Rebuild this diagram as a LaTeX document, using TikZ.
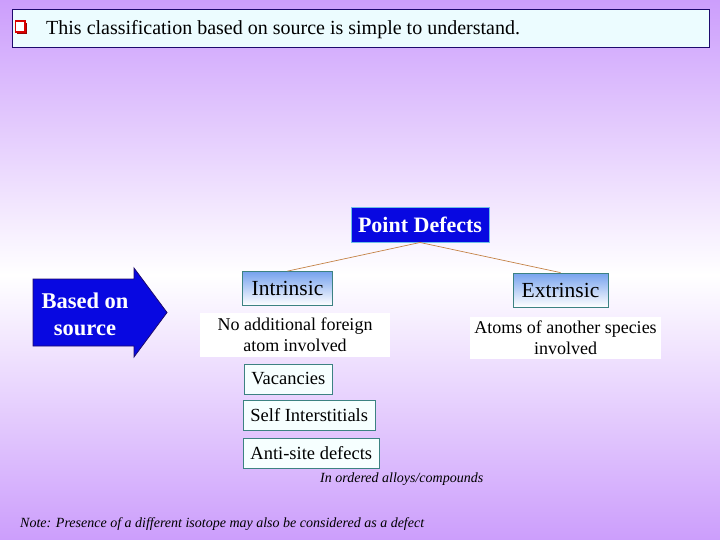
\documentclass[tikz,border=0pt]{standalone}
\usepackage{fontspec}
\setmainfont{Liberation Serif}
\begin{document}
\begin{tikzpicture}[x=1pt,y=-1pt]
\definecolor{bgpurple}{RGB}{204,158,252}
\definecolor{topfill}{RGB}{236,252,255}
\definecolor{navyb}{RGB}{30,10,110}
\definecolor{pdblue}{RGB}{8,8,225}
\definecolor{pdborder}{RGB}{110,190,230}
\definecolor{tealb}{RGB}{60,130,130}
\definecolor{lightblue}{RGB}{118,162,238}
\definecolor{linkc}{RGB}{196,130,70}
\definecolor{boxfill}{RGB}{246,255,255}
\tikzset{
  catbox/.style={draw=tealb, line width=0.8pt, top color=lightblue, bottom color=white,
    minimum width=90pt, minimum height=34pt, inner sep=0pt, font=\fontsize{21.5}{23}\selectfont},
  itembox/.style={draw=tealb, line width=0.8pt, fill=boxfill, minimum height=30pt,
    inner sep=0pt, inner xsep=7pt, anchor=west, font=\fontsize{18.5}{20}\selectfont},
  notebox/.style={fill=white, inner sep=0pt, align=center, font=\fontsize{18}{21}\selectfont},
  link/.style={draw=linkc, line width=0.7pt},
  small/.style={inner sep=0pt, font=\fontsize{14}{15}\selectfont\itshape}
}
\useasboundingbox (0,0) rectangle (720,540);
\shade[top color=bgpurple, bottom color=white] (0,0) rectangle (720,275);
\shade[top color=white, bottom color=bgpurple] (0,275) rectangle (720,540);
% top banner
\node[draw=navyb, line width=1.2pt, fill=topfill, minimum width=697pt, minimum height=38pt,
  inner sep=0pt, anchor=north west] (banner) at (12,9) {};
\fill[red!60!black] (17,23) rectangle (27,34);
\draw[red!85!black, line width=1.3pt, fill=white] (15.5,21) rectangle (25,32);
\node[inner sep=0pt, anchor=base west, font=\fontsize{20}{22}\selectfont] (title) at (46,35)
  {This classification based on source is simple to understand.};
% arrow
\draw[fill=pdblue, draw=navyb, line width=0.8pt]
  (33,279) -- (134,279) -- (134,268) -- (167,312.5) -- (134,357) -- (134,346) -- (33,346) -- cycle;
\node[inner sep=0pt, align=center, text=white, font=\fontsize{22.5}{27}\selectfont\bfseries] (based) at (85,314)
  {Based on\\source};
% point defects
\node[draw=pdborder, line width=1pt, fill=pdblue, minimum width=138pt, minimum height=34pt,
  inner sep=0pt, text=white, font=\fontsize{22}{23}\selectfont\bfseries] (pd) at (420,225) {Point Defects};
\node[catbox] (intr) at (287.5,288.5) {Intrinsic};
\node[catbox, minimum width=95pt] (extr) at (560.5,290) {Extrinsic};
\draw[link] (pd.south) -- (intr.north);
\draw[link] (pd.south) -- (extr.north);
\node[notebox, minimum width=190pt, minimum height=44pt] (nofor) at (295,335)
  {No additional foreign\\atom involved};
\node[notebox, minimum width=191pt, minimum height=42pt] (atoms) at (565.5,338)
  {Atoms of another species\\involved};
\node[itembox] (vac) at (244,379) {Vacancies};
\node[itembox] (self) at (243,415.5) {Self Interstitials};
\node[itembox] (anti) at (243,453) {Anti-site defects};
\node[small, anchor=base west] (ordered) at (320,482) {In ordered alloys/compounds};
\node[small, anchor=base west] (note) at (20,527)
  {Note: Presence of a different isotope may also be considered as a defect};
\end{tikzpicture}
\end{document}
